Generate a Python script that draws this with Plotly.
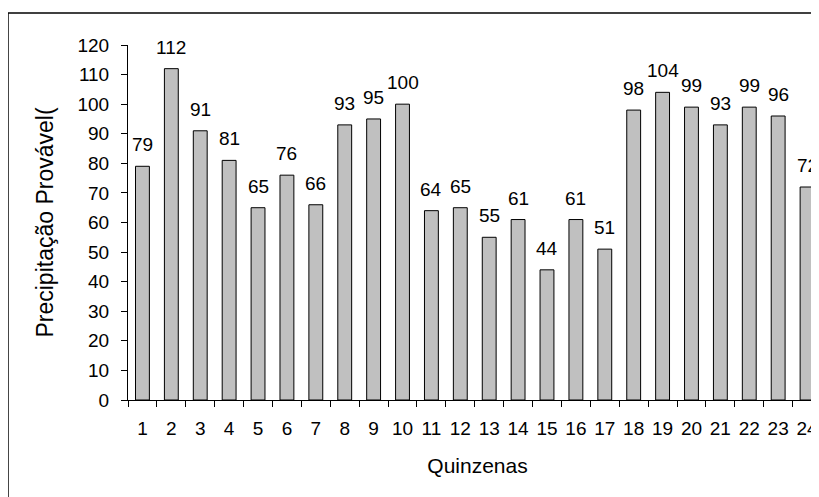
import plotly.graph_objects as go

categories = [str(i) for i in range(1, 25)]
values = [79, 112, 91, 81, 65, 76, 66, 93, 95, 100, 64, 65, 55, 61, 44, 61, 51, 98, 104, 99, 93, 99, 96, 72]
y_ticks = list(range(0, 121, 10))
x_title = "Quinzenas"
y_title = "Precipitação Provável("

FONT = "Liberation Sans, Arial, sans-serif"

fig = go.Figure()
fig.add_trace(go.Bar(
    x=categories, y=values,
    marker=dict(color="#C0C0C0", line=dict(color="black", width=1)),
    hoverinfo="x+y",
))

for i, v in enumerate(values):
    fig.add_annotation(x=i, y=v, xref="x", yref="y", text=str(v), showarrow=False,
                       yanchor="bottom", yshift=9,
                       font=dict(family=FONT, size=19, color="black"))

frame = dict(color="black", width=1.5)
fig.update_layout(
    width=819, height=497,
    margin=dict(l=120, r=0, t=37, b=105),
    paper_bgcolor="white", plot_bgcolor="white",
    bargap=0.52,
    showlegend=False,
    font=dict(family=FONT, color="black", size=19),
    xaxis=dict(
        type="category", range=[-0.5, 23.69],
        tickson="boundaries", ticks="outside", ticklen=6, tickwidth=1, tickcolor="black",
        tickangle=0, ticklabelstandoff=11,
        showline=True, linecolor="black", linewidth=1, showgrid=False, zeroline=False,
        tickfont=dict(family=FONT, size=19, color="black"),
        title=dict(text=x_title, font=dict(family=FONT, size=21, color="black"), standoff=20),
    ),
    yaxis=dict(
        range=[0, 120], tickvals=y_ticks,
        ticks="outside", ticklen=6, tickwidth=1, tickcolor="black",
        showline=True, linecolor="black", linewidth=1, showgrid=False, zeroline=False,
        tickfont=dict(family=FONT, size=19, color="black"),
        ticklabelstandoff=8,
        title=dict(text=y_title, font=dict(family=FONT, size=23, color="black"), standoff=17),
    ),
    shapes=[
        dict(type="line", xref="paper", yref="paper", x0=-0.1717, x1=1.05, y0=1.0901, y1=1.0901, line=frame),
        dict(type="line", xref="paper", yref="paper", x0=-0.1717, x1=-0.1717, y0=-0.4, y1=1.0901, line=frame),
    ],
)

fig.write_html(
    "out.html",
    post_script="document.documentElement.style.overflow='hidden';document.body.style.overflow='hidden';",
)
